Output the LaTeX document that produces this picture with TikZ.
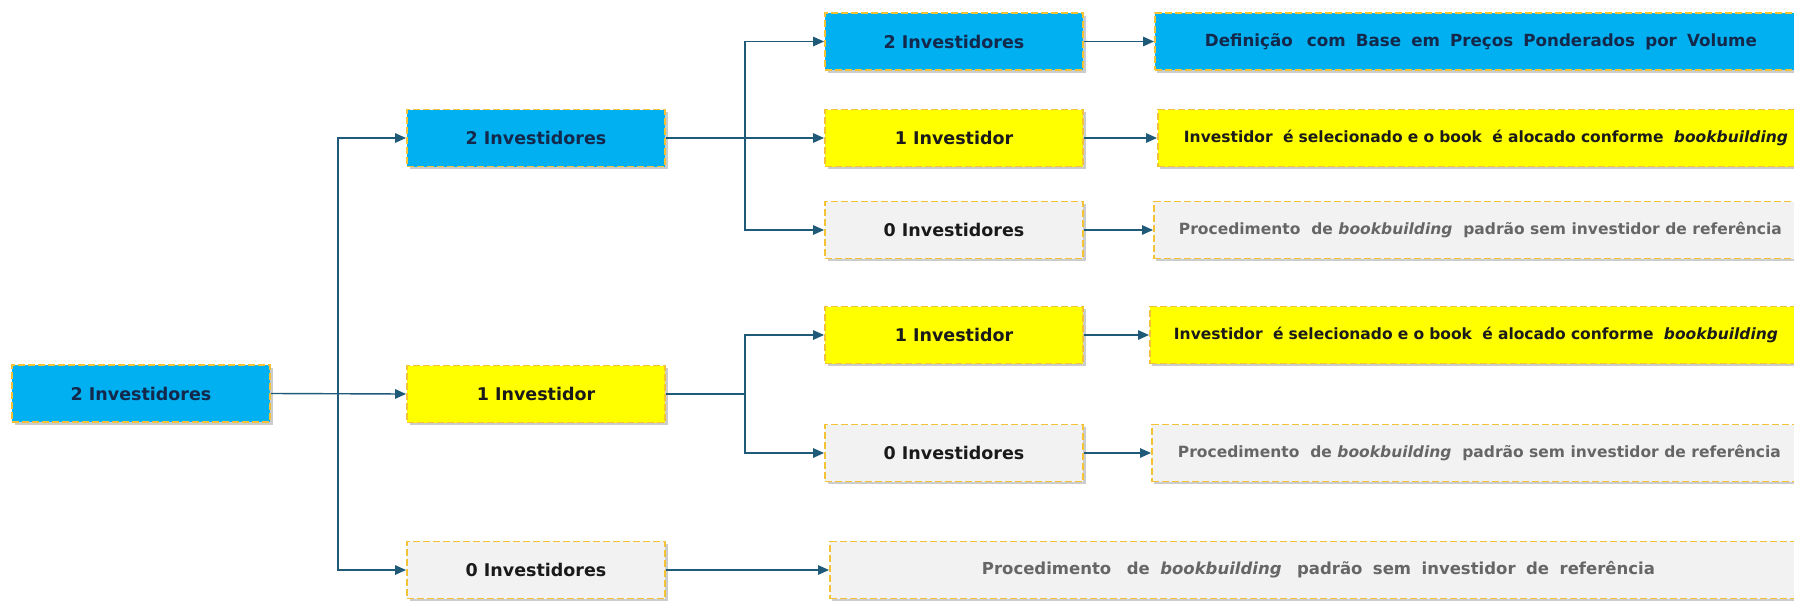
\documentclass[tikz,border=0pt]{standalone}
\usepackage{fontspec}
\setmainfont{DejaVu Sans}
\usetikzlibrary{arrows.meta,shadows}
\definecolor{cblue}{HTML}{00B0F0}
\definecolor{cyel}{HTML}{FFFF00}
\definecolor{cgray}{HTML}{F2F2F2}
\definecolor{cdash}{HTML}{F3C235}
\definecolor{cline}{HTML}{1F5B78}
\definecolor{cnavy}{HTML}{13284A}
\definecolor{cblack}{HTML}{1A1A1A}
\definecolor{ctxtgray}{HTML}{666666}
\begin{document}
\begin{tikzpicture}[x=1pt,y=-1pt,
 box/.style={draw=cdash, line width=1.9pt, dash pattern=on 7pt off 3pt, minimum height=57pt, inner sep=0pt,
   drop shadow={shadow xshift=2.5pt, shadow yshift=-2.5pt, opacity=0.2, fill=black}},
 colbox/.style={box, minimum width=258pt, font=\fontsize{17.5}{21}\selectfont\bfseries},
 bluebox/.style={fill=cblue, text=cnavy},
 yelbox/.style={fill=cyel, text=cblack},
 graybox/.style={fill=cgray, text=cblack},
 rbox/.style={box, anchor=west, minimum width=680pt, inner xsep=0pt},
 rfont/.style={font=\fontsize{15.5}{19}\selectfont\bfseries},
 conn/.style={draw=cline, line width=1.4pt},
 arr/.style={conn, -{Triangle[length=11pt,width=9.5pt]}},
]
\useasboundingbox (0,0) rectangle (1794,600);
\clip (0,0) rectangle (1794,600);
\fill[white] (0,0) rectangle (1794,600);

% column 1
\node[colbox, bluebox] (A) at (141,393.5) {2 Investidores};
% column 2
\node[colbox, bluebox] (B1) at (536,138) {2 Investidores};
\node[colbox, yelbox] (B2) at (536,394) {1 Investidor};
\node[colbox, graybox] (B3) at (536,570) {0 Investidores};
% column 3
\node[colbox, bluebox] (C1) at (954,41.5) {2 Investidores};
\node[colbox, yelbox] (C2) at (954,138) {1 Investidor};
\node[colbox, graybox] (C3) at (954,230) {0 Investidores};
\node[colbox, yelbox] (C4) at (954,335) {1 Investidor};
\node[colbox, graybox] (C5) at (954,453) {0 Investidores};
% right column
\node[rbox, fill=cblue, text=cnavy, font=\fontsize{16.7}{20}\selectfont\bfseries] (R1) at (1154,41.5)
  {\makebox[680pt][l]{\hspace*{50pt}\makebox[552pt][s]{Definição\hspace{4pt} com Base em Preços Ponderados por Volume}}};
\node[rbox, rfont, fill=cyel, text=cblack] (R2) at (1157,138)
  {\makebox[680pt][l]{\hspace*{26pt}\makebox[604pt][s]{Investidor\ \ é selecionado e o book\ \ é alocado conforme\ \ \textit{bookbuilding}}}};
\node[rbox, rfont, fill=cgray, text=ctxtgray] (R3) at (1153,230)
  {\makebox[680pt][l]{\hspace*{25pt}\makebox[603pt][s]{Procedimento\ \ de \textit{bookbuilding}\ \ padrão sem investidor de referência}}};
\node[rbox, rfont, fill=cyel, text=cblack] (R4) at (1149,335)
  {\makebox[680pt][l]{\hspace*{24pt}\makebox[604pt][s]{Investidor\ \ é selecionado e o book\ \ é alocado conforme\ \ \textit{bookbuilding}}}};
\node[rbox, rfont, fill=cgray, text=ctxtgray] (R5) at (1151,453)
  {\makebox[680pt][l]{\hspace*{26pt}\makebox[603pt][s]{Procedimento\ \ de \textit{bookbuilding}\ \ padrão sem investidor de referência}}};
\node[rbox, minimum width=1000pt, fill=cgray, text=ctxtgray, font=\fontsize{16.5}{20}\selectfont\bfseries] (R6) at (829,570)
  {\makebox[1000pt][l]{\hspace*{152pt}\makebox[673pt][s]{Procedimento\hspace{5pt} de \textit{bookbuilding}\hspace{5pt} padrão sem investidor de referência}}};

% connectors
\coordinate (j0) at (338,394);
\coordinate (j1) at (745,138);
\coordinate (j2) at (745,394);
\draw[arr] (A.east) -- (B2.west);
\draw[arr] (j0) |- (B1.west);
\draw[arr] (j0) |- (B3.west);
\draw[arr] (B1.east) -- (C2.west);
\draw[arr] (j1) |- (C1.west);
\draw[arr] (j1) |- (C3.west);
\draw[conn] (B2.east) -- (j2);
\draw[arr] (j2) |- (C4.west);
\draw[arr] (j2) |- (C5.west);
\draw[arr] (C1.east) -- (R1.west);
\draw[arr] (C2.east) -- (R2.west);
\draw[arr] (C3.east) -- (R3.west);
\draw[arr] (C4.east) -- (R4.west);
\draw[arr] (C5.east) -- (R5.west);
\draw[arr] (B3.east) -- (R6.west);
\end{tikzpicture}
\end{document}
